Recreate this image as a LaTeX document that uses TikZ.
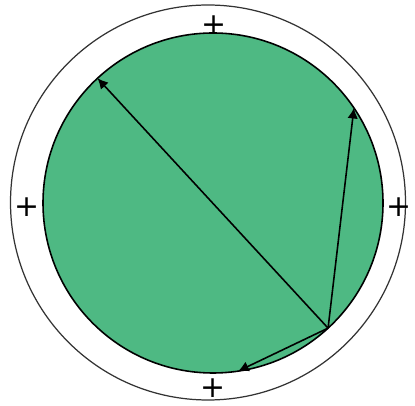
\documentclass[tikz,border=0pt]{standalone}
\usepackage{fontspec}
\newfontfamily\signofont{DejaVu Sans}
\usetikzlibrary{arrows.meta,calc}
\definecolor{verde}{RGB}{78,185,131}
\begin{document}
\begin{tikzpicture}[x=0.02cm, y=0.02cm,
    vec/.style={-{Latex[length=6pt,width=6pt]}, line width=0.9pt},
    signo/.style={font=\signofont\fontsize{17}{17}\selectfont, inner sep=0pt}]
    \useasboundingbox (0,0) rectangle (415,405);
    \def\ox{208}   % centro exterior
    \def\oy{202.5}
    \def\ro{197.5} % radio exterior
    \def\cx{213}   % centro interior
    \def\cy{202}
    \def\rr{170}   % radio interior

    % anillo exterior
    \draw[line width=0.7pt, black!80] (\ox,\oy) circle [radius=\ro];

    % disco verde
    \filldraw[fill=verde, draw=black, line width=0.9pt] (\cx,\cy) circle [radius=\rr];

    % signos
    \node[signo] (sn) at (214,380) {+};
    \node[signo] (ss) at (213,17) {+};
    \node[signo] (so) at (27,198) {+};
    \node[signo] (se) at (399,198) {+};

    % puntos sobre la circunferencia
    \coordinate (P) at ($(\cx,\cy)+(-47.4:\rr)$);
    \coordinate (A) at ($(\cx,\cy)+(132.8:\rr)$);
    \coordinate (B) at ($(\cx,\cy)+(34:\rr)$);
    \coordinate (C) at ($(\cx,\cy)+(-81.5:\rr)$);

    % vectores
    \draw[vec] (P) -- (A);
    \draw[vec] (P) -- (B);
    \draw[vec] (P) -- (C);
\end{tikzpicture}
\end{document}
